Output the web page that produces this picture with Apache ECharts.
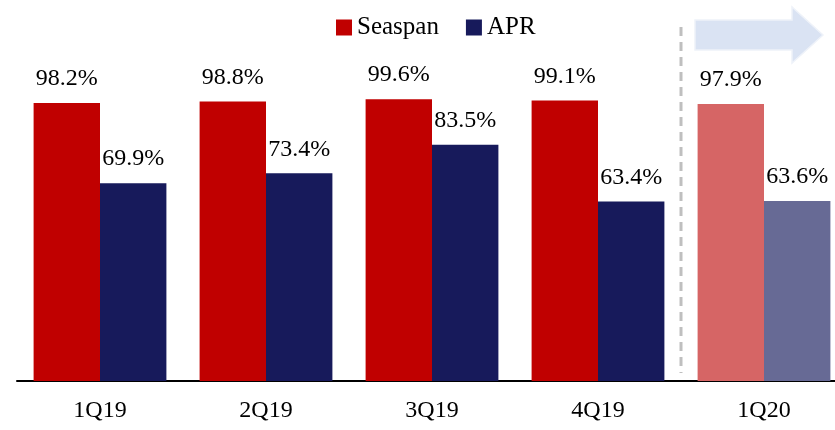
<!DOCTYPE html>
<html>
<head>
<meta charset="utf-8">
<script src="https://cdn.jsdelivr.net/npm/echarts@6/dist/echarts.min.js"></script>
<style>
    html, body { margin: 0; padding: 0; background: #fff; overflow: hidden; }
    /* plot runs past the right edge of the page, like the original slide */
    #chart { width: 847px; height: 430px; }
</style>
</head>
<body>
<div id="chart"></div>
<script>
const categories = ['1Q19', '2Q19', '3Q19', '4Q19', '1Q20'];
const seaspan = [98.2, 98.8, 99.6, 99.1, 97.9];
const apr = [69.9, 73.4, 83.5, 63.4, 63.6];

const SEASPAN_COLOR = '#C00000';
const APR_COLOR = '#171A5B';
const SEASPAN_LIGHT = '#D66565';
const APR_LIGHT = '#676A95';
const FONT = '"Liberation Serif", "DejaVu Serif", serif';

// last quarter is shown in lighter colours
function toBars(values, color, light) {
    return values.map(function (v, i) {
        return {
            value: v,
            itemStyle: { color: i === values.length - 1 ? light : color }
        };
    });
}

let chart = echarts.init(document.getElementById('chart'));

let labelStyle = {
    show: true,
    position: 'top',
    distance: 12,
    fontFamily: FONT,
    fontSize: 24,
    color: '#000',
    formatter: function (p) { return p.value.toFixed(1) + '%'; }
};

chart.setOption({
    animation: false,
    legend: {
        top: 10,
        left: 331,
        itemWidth: 16,
        itemHeight: 16,
        itemGap: 27,
        icon: 'rect',
        textStyle: { fontFamily: FONT, fontSize: 25, color: '#000' },
        data: [
            { name: 'Seaspan', itemStyle: { color: SEASPAN_COLOR } },
            { name: 'APR', itemStyle: { color: APR_COLOR } }
        ]
    },
    grid: {
        left: 17,
        right: 0,
        top: 98,
        bottom: 49,
        containLabel: false
    },
    xAxis: {
        type: 'category',
        data: categories,
        axisLine: { lineStyle: { color: '#000', width: 2 } },
        axisTick: { show: false },
        axisLabel: {
            margin: 18,
            fontFamily: FONT,
            fontSize: 24,
            color: '#000'
        }
    },
    yAxis: {
        type: 'value',
        min: 0,
        max: 100,
        show: false
    },
    series: [
        {
            name: 'Seaspan',
            type: 'bar',
            barWidth: '40%',
            barGap: '0%',
            itemStyle: { color: SEASPAN_COLOR },
            label: labelStyle,
            data: toBars(seaspan, SEASPAN_COLOR, SEASPAN_LIGHT)
        },
        {
            name: 'APR',
            type: 'bar',
            barWidth: '40%',
            itemStyle: { color: APR_COLOR },
            label: labelStyle,
            data: toBars(apr, APR_COLOR, APR_LIGHT)
        }
    ]
});

/* Dashed divider between the last two quarters, plus the arrow on top. */
let x3 = chart.convertToPixel({ xAxisIndex: 0 }, categories[3]);
let x4 = chart.convertToPixel({ xAxisIndex: 0 }, categories[4]);
let divX = Math.round((x3 + x4) / 2);

chart.setOption({
    graphic: [
        {
            type: 'line',
            shape: { x1: divX, y1: 27, x2: divX, y2: 373 },
            style: { stroke: '#BFBFBF', lineWidth: 3, lineDash: [9, 6] }
        },
        {
            type: 'polygon',
            shape: {
                points: [[695, 20], [792, 20], [792, 7], [823, 35], [792, 63], [792, 50], [695, 50]]
            },
            style: { fill: '#DAE3F3', stroke: '#EEF2F9', lineWidth: 1.5 }
        }
    ]
});

window.addEventListener('resize', function () {
    chart.resize();
});
</script>
</body>
</html>
